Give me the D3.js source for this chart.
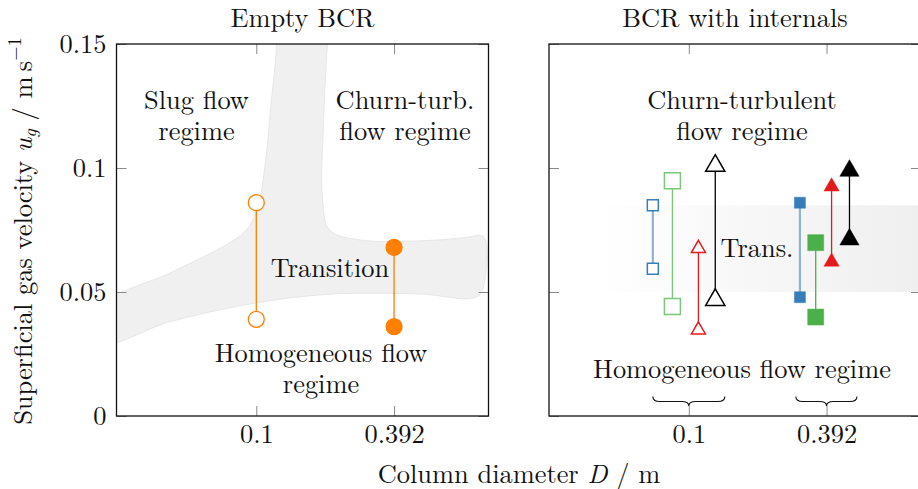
<!DOCTYPE html>
<html>

<head>
    <meta charset="UTF-8">
    <script src="https://d3js.org/d3.v7.min.js"></script>
    <style>
        body { margin: 0; background: #fff; }
    </style>
</head>

<body>
    <svg></svg>

    <script>
        // ---- data ----
        let yTicks = [0, 0.05, 0.1, 0.15];
        let xTicks = [0.1, 0.392];

        // empty BCR: open circles at D = 0.1, filled at D = 0.392
        let emptyD = [0.1, 0.392];
        let emptyLow = [0.039, 0.036];
        let emptyHigh = [0.086, 0.068];
        let emptyFilled = [false, true];

        // BCR with internals: [blue sq, green sq, red tri, black tri] for each diameter
        let intColors = ["#377eb8", "#4daf4a", "#e41a1c", "#000000"];
        let intShapes = ["square", "square", "triangle", "triangle"];
        let intD_01 = [0.070, 0.085, 0.110, 0.130];
        let intLow_01 = [0.0594, 0.0442, 0.0347, 0.0468];
        let intHigh_01 = [0.085, 0.0949, 0.0676, 0.1009];
        let intD_0392 = [0.301, 0.352, 0.412, 0.492];
        let intLow_0392 = [0.0479, 0.0399, 0.0622, 0.0712];
        let intHigh_0392 = [0.086, 0.0699, 0.0925, 0.0989];

        // transition band of the empty column (D, ug)
        let bandD = [0.12, 0.1222, 0.1161, 0.1087, 0.1008, 0.0907, 0.0718, 0.0425, 0.022,
                     0.022, 0.0425, 0.1, 0.2134, 0.505, 0.90, 0.975,
                     0.95, 0.801, 0.615, 0.2786, 0.207, 0.193, 0.195, 0.2023, 0.205];
        let bandU = [0.16, 0.15, 0.1274, 0.1, 0.0831, 0.075, 0.0683, 0.0577, 0.0445,
                     0.0295, 0.038, 0.0456, 0.0492, 0.0492, 0.0483, 0.058,
                     0.0724, 0.072, 0.071, 0.071, 0.075, 0.0871, 0.1194, 0.15, 0.16];
        // transition band with internals
        let transInt = [0.05, 0.085];

        // braces under the groups
        let braceFrom = [0.070, 0.289];
        let braceTo = [0.143, 0.530];
        let braceMid = [0.1, 0.392];

        // ---- layout ----
        let width = 918, height = 489;
        let plotTop = 44, plotBottom = 416, size = 372;
        let leftX = 116.5, rightX = 549;
        let font = "'Latin Modern Roman', 'CMU Serif', serif";
        let fs = "26.4px";

        let svg = d3.select("svg")
            .attr("width", width)
            .attr("height", height)
            .attr("viewBox", "0 0 " + width + " " + height);

        let y = d3.scaleLinear().domain([0, 0.15]).range([plotBottom, plotTop]);
        let xL = d3.scaleLog().domain([0.025, 1]).range([leftX, leftX + size]);
        let xR = d3.scaleLog().domain([0.025, 1]).range([rightX, rightX + size]);

        let defs = svg.append("defs");
        [["clipL", leftX], ["clipR", rightX]].forEach(c => {
            defs.append("clipPath").attr("id", c[0])
                .append("rect").attr("x", c[1]).attr("y", plotTop).attr("width", size).attr("height", size);
        });
        let grad = defs.append("linearGradient").attr("id", "fade")
            .attr("x1", "0%").attr("x2", "100%").attr("y1", "0%").attr("y2", "0%");
        grad.append("stop").attr("offset", "0%").attr("stop-color", "#ffffff");
        grad.append("stop").attr("offset", "100%").attr("stop-color", "#efefef");

        function drawAxes(x, x0, showY) {
            let g = svg.append("g");
            g.append("g").attr("transform", "translate(0," + plotBottom + ")")
                .call(d3.axisBottom(x).tickValues(xTicks).tickFormat(d => String(d))
                    .tickSizeInner(-10).tickSizeOuter(0).tickPadding(8.3));
            g.append("g").attr("transform", "translate(0," + plotTop + ")")
                .call(d3.axisTop(x).tickValues(xTicks).tickFormat("")
                    .tickSizeInner(-10).tickSizeOuter(0));
            g.append("g").attr("transform", "translate(" + x0 + ",0)")
                .call(d3.axisLeft(y).tickValues(yTicks).tickFormat(showY ? (d => String(d)) : "")
                    .tickSizeInner(-10).tickSizeOuter(0).tickPadding(10));
            g.append("g").attr("transform", "translate(" + (x0 + size) + ",0)")
                .call(d3.axisRight(y).tickValues(yTicks).tickFormat("")
                    .tickSizeInner(-10).tickSizeOuter(0));
            g.selectAll(".domain").remove();
            g.selectAll(".tick line").attr("stroke", "#8a8a8a").attr("stroke-width", 1);
            g.selectAll(".tick text").style("font-family", font).style("font-size", fs).attr("fill", "#111");
            svg.append("rect").attr("x", x0).attr("y", plotTop).attr("width", size).attr("height", size)
                .attr("fill", "none").attr("stroke", "#111").attr("stroke-width", 1.3);
        }

        // ---- left panel: empty BCR ----
        let band = bandD.map((d, i) => [d, bandU[i]]);
        svg.append("g").attr("clip-path", "url(#clipL)")
            .append("path")
            .attr("d", d3.line().x(d => xL(d[0])).y(d => y(d[1])).curve(d3.curveCatmullRomClosed.alpha(0.5))(band))
            .attr("fill", "#f0f0f0")
            .attr("stroke", "#e2e2e2")
            .attr("stroke-width", 0.8);

        drawAxes(xL, leftX, true);

        let orange = "#ff7f00";
        emptyD.forEach((d, i) => {
            svg.append("line")
                .attr("x1", xL(d)).attr("x2", xL(d))
                .attr("y1", y(emptyLow[i])).attr("y2", y(emptyHigh[i]))
                .attr("stroke", orange).attr("stroke-width", 1.3);
            [emptyLow[i], emptyHigh[i]].forEach(u => {
                svg.append("circle")
                    .attr("cx", xL(d)).attr("cy", y(u)).attr("r", 8)
                    .attr("fill", emptyFilled[i] ? orange : "#fff")
                    .attr("stroke", orange).attr("stroke-width", 1.3);
            });
        });

        // ---- right panel: with internals ----
        svg.append("rect")
            .attr("x", xR(0.04)).attr("width", xR(1) - xR(0.04))
            .attr("y", y(transInt[1])).attr("height", y(transInt[0]) - y(transInt[1]))
            .attr("fill", "url(#fade)");

        drawAxes(xR, rightX, false);

        let sqSize = [121, 256];
        let triSize = [85, 160];
        function drawGroup(ds, lows, highs, filled) {
            ds.forEach((d, i) => {
                let c = intColors[i];
                let big = (i % 2 == 1) ? 1 : 0;
                let lineCol = c, lw = 1.3;
                if (i == 0) { lineCol = "#8fb3d6"; lw = 2.2; }
                if (i == 1 && !filled) { lineCol = "#7cc679"; }
                svg.append("line")
                    .attr("x1", xR(d)).attr("x2", xR(d))
                    .attr("y1", y(lows[i])).attr("y2", y(highs[i]))
                    .attr("stroke", lineCol).attr("stroke-width", lw);
                let sym = intShapes[i] == "square"
                    ? d3.symbol(d3.symbolSquare, sqSize[big])
                    : d3.symbol(d3.symbolTriangle, i == 3 ? triSize[1] : (filled ? 100 : triSize[0]));
                [lows[i], highs[i]].forEach(u => {
                    svg.append("path")
                        .attr("d", sym())
                        .attr("transform", "translate(" + xR(d) + "," + y(u) + ")")
                        .attr("fill", filled ? c : "#fff")
                        .attr("stroke", (i == 1 && !filled) ? "#7cc679" : c)
                        .attr("stroke-width", filled ? 0.5 : 1.5);
                });
            });
        }
        drawGroup(intD_01, intLow_01, intHigh_01, false);
        drawGroup(intD_0392, intLow_0392, intHigh_0392, true);

        // braces
        braceMid.forEach((m, i) => {
            let a = xR(braceFrom[i]), b = xR(braceTo[i]), c = xR(m);
            let yt = 396.5, ym = 401.5, yb = 406, r = 7;
            let p = d3.path();
            p.moveTo(a, yt);
            p.quadraticCurveTo(a, ym, a + r, ym);
            p.lineTo(c - r, ym);
            p.quadraticCurveTo(c, ym, c, yb);
            p.quadraticCurveTo(c, ym, c + r, ym);
            p.lineTo(b - r, ym);
            p.quadraticCurveTo(b, ym, b, yt);
            svg.append("path").attr("d", p.toString())
                .attr("fill", "none").attr("stroke", "#111").attr("stroke-width", 1.1);
        });

        // ---- texts ----
        // one text element per line
        function label(x, yy, lines, lh) {
            lines.forEach((s, k) => {
                svg.append("text").attr("x", x).attr("y", yy + k * lh)
                    .attr("text-anchor", "middle")
                    .style("font-family", font).style("font-size", fs).attr("fill", "#111")
                    .text(s);
            });
        }
        label(302.5, 27, ["Empty BCR"], 0);
        label(735, 27, ["BCR with internals"], 0);

        label(196.5, 109, ["Slug flow", "regime"], 31);
        label(405, 109, ["Churn-turb.", "flow regime"], 31);
        label(330, 277, ["Transition"], 0);
        label(321, 362, ["Homogeneous flow", "regime"], 31);

        label(742, 109, ["Churn-turbulent", "flow regime"], 31);
        label(757, 257, ["Trans."], 0);
        label(742, 378, ["Homogeneous flow regime"], 0);

        // axis titles
        let xt = svg.append("text").attr("x", 519).attr("y", 483)
            .attr("text-anchor", "middle")
            .style("font-family", font).style("font-size", fs).attr("fill", "#111");
        xt.append("tspan").text("Column diameter ");
        xt.append("tspan").style("font-style", "italic").text("D");
        xt.append("tspan").text(" / m");

        let yt = svg.append("text")
            .attr("transform", "translate(32,231) rotate(-90)")
            .attr("text-anchor", "middle")
            .style("font-family", font).style("font-size", fs).attr("fill", "#111");
        yt.append("tspan").text("Superficial gas velocity ");
        yt.append("tspan").style("font-style", "italic").text("u");
        yt.append("tspan").style("font-style", "italic").style("font-size", "18.5px").attr("dy", 4).text("g");
        yt.append("tspan").attr("dy", -4).text(" / m\u2009s");
        yt.append("tspan").style("font-size", "18.5px").attr("dy", -11).text("\u22121");
    </script>

</body>

</html>
